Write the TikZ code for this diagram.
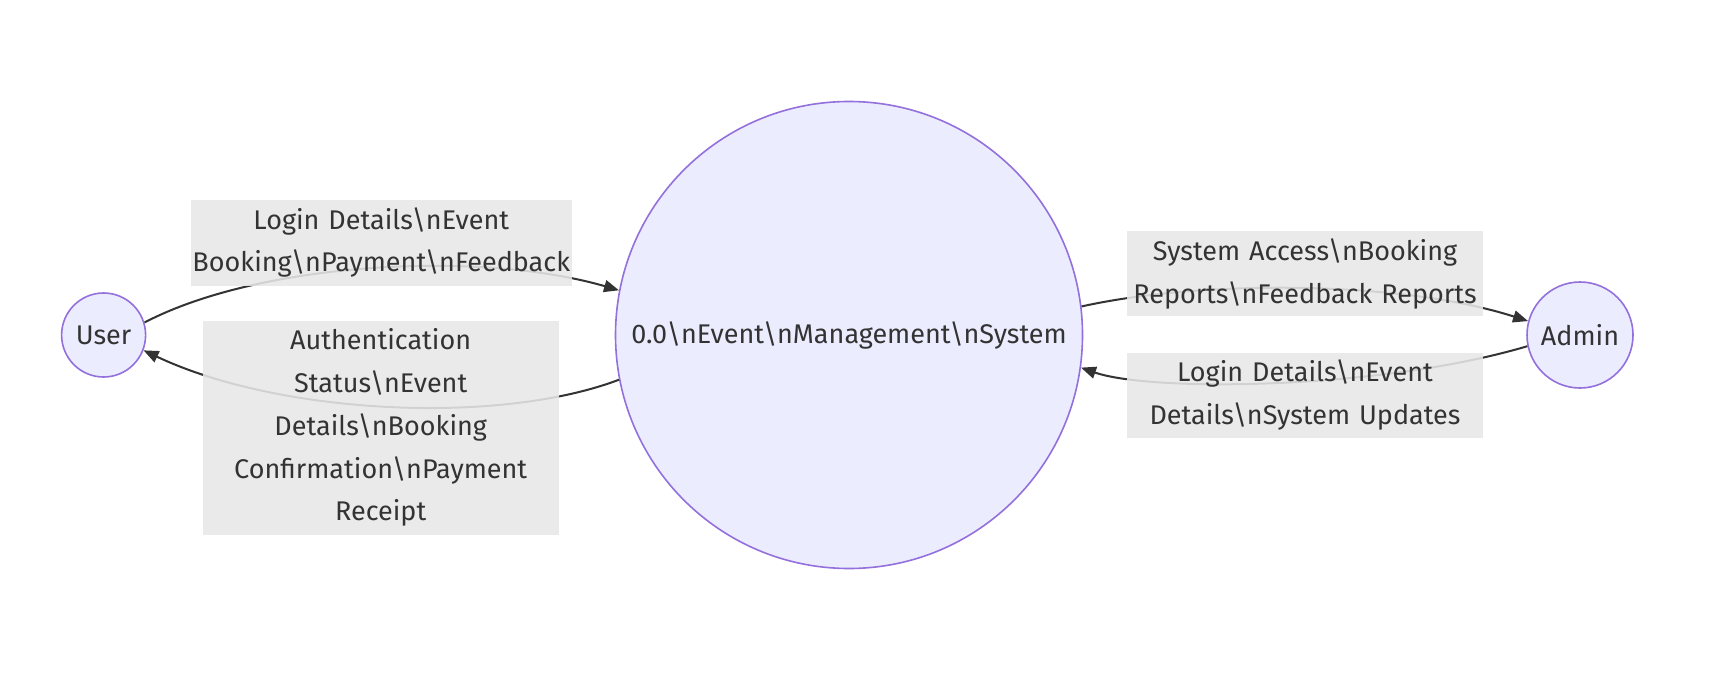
\documentclass[tikz,border=0pt]{standalone}
\usepackage{fontspec}
\setmainfont{Fira Sans}
\usetikzlibrary{arrows.meta}
\definecolor{nodefill}{HTML}{ECECFF}
\definecolor{nodeline}{HTML}{9370DB}
\definecolor{txt}{HTML}{333333}
\definecolor{edge}{HTML}{333333}
\definecolor{labfill}{RGB}{232,232,232}
\begin{document}
\begin{tikzpicture}[x=1pt,y=-1pt,
  every node/.style={text=txt, font=\fontsize{27}{42.75}\selectfont},
  proc/.style={circle, draw=nodeline, fill=nodefill, line width=1.6pt, inner sep=0pt},
  flowlabel/.style={fill=labfill, fill opacity=0.88, text opacity=1, inner sep=0pt, align=center},
  flow/.style={draw=edge, line width=2pt, -{Triangle[length=15pt,width=12pt]}}
]
\useasboundingbox (0,0) rectangle (1728,672);
\fill[white] (0,0) rectangle (1728,672);
\node[proc, minimum size=84pt] (user) at (103.6,335) {User};
\node[proc, minimum size=467pt] (sys) at (849,335) {0.0\textbackslash nEvent\textbackslash nManagement\textbackslash nSystem};
\node[proc, minimum size=106pt] (admin) at (1580,335) {Admin};

\draw[flow] (user.17) .. controls (260,262) and (480,250) .. (sys.169);
\draw[flow] (sys.191.4) .. controls (500,425) and (280,415) .. (user.339.8);
\draw[flow] (sys.7.5) .. controls (1200,280) and (1400,280) .. (admin.165.5);
\draw[flow] (admin.192.8) .. controls (1380,390) and (1150,392) .. (sys.352.9);

\node[flowlabel, text width=381.4pt, minimum height=86pt] (lab1) at (381.3,242.5)
  {Login Details\textbackslash nEvent\\Booking\textbackslash nPayment\textbackslash nFeedback};
\node[flowlabel, text width=356pt, minimum height=213.8pt] (lab2) at (380.7,427.6)
  {Authentication\\Status\textbackslash nEvent\\Details\textbackslash nBooking\\Confirmation\textbackslash nPayment\\Receipt};
\node[flowlabel, text width=356pt, minimum height=85pt] (lab3) at (1305,273.8)
  {System Access\textbackslash nBooking\\Reports\textbackslash nFeedback Reports};
\node[flowlabel, text width=356pt, minimum height=85pt] (lab4) at (1305,395)
  {Login Details\textbackslash nEvent\\Details\textbackslash nSystem Updates};
\end{tikzpicture}
\end{document}
